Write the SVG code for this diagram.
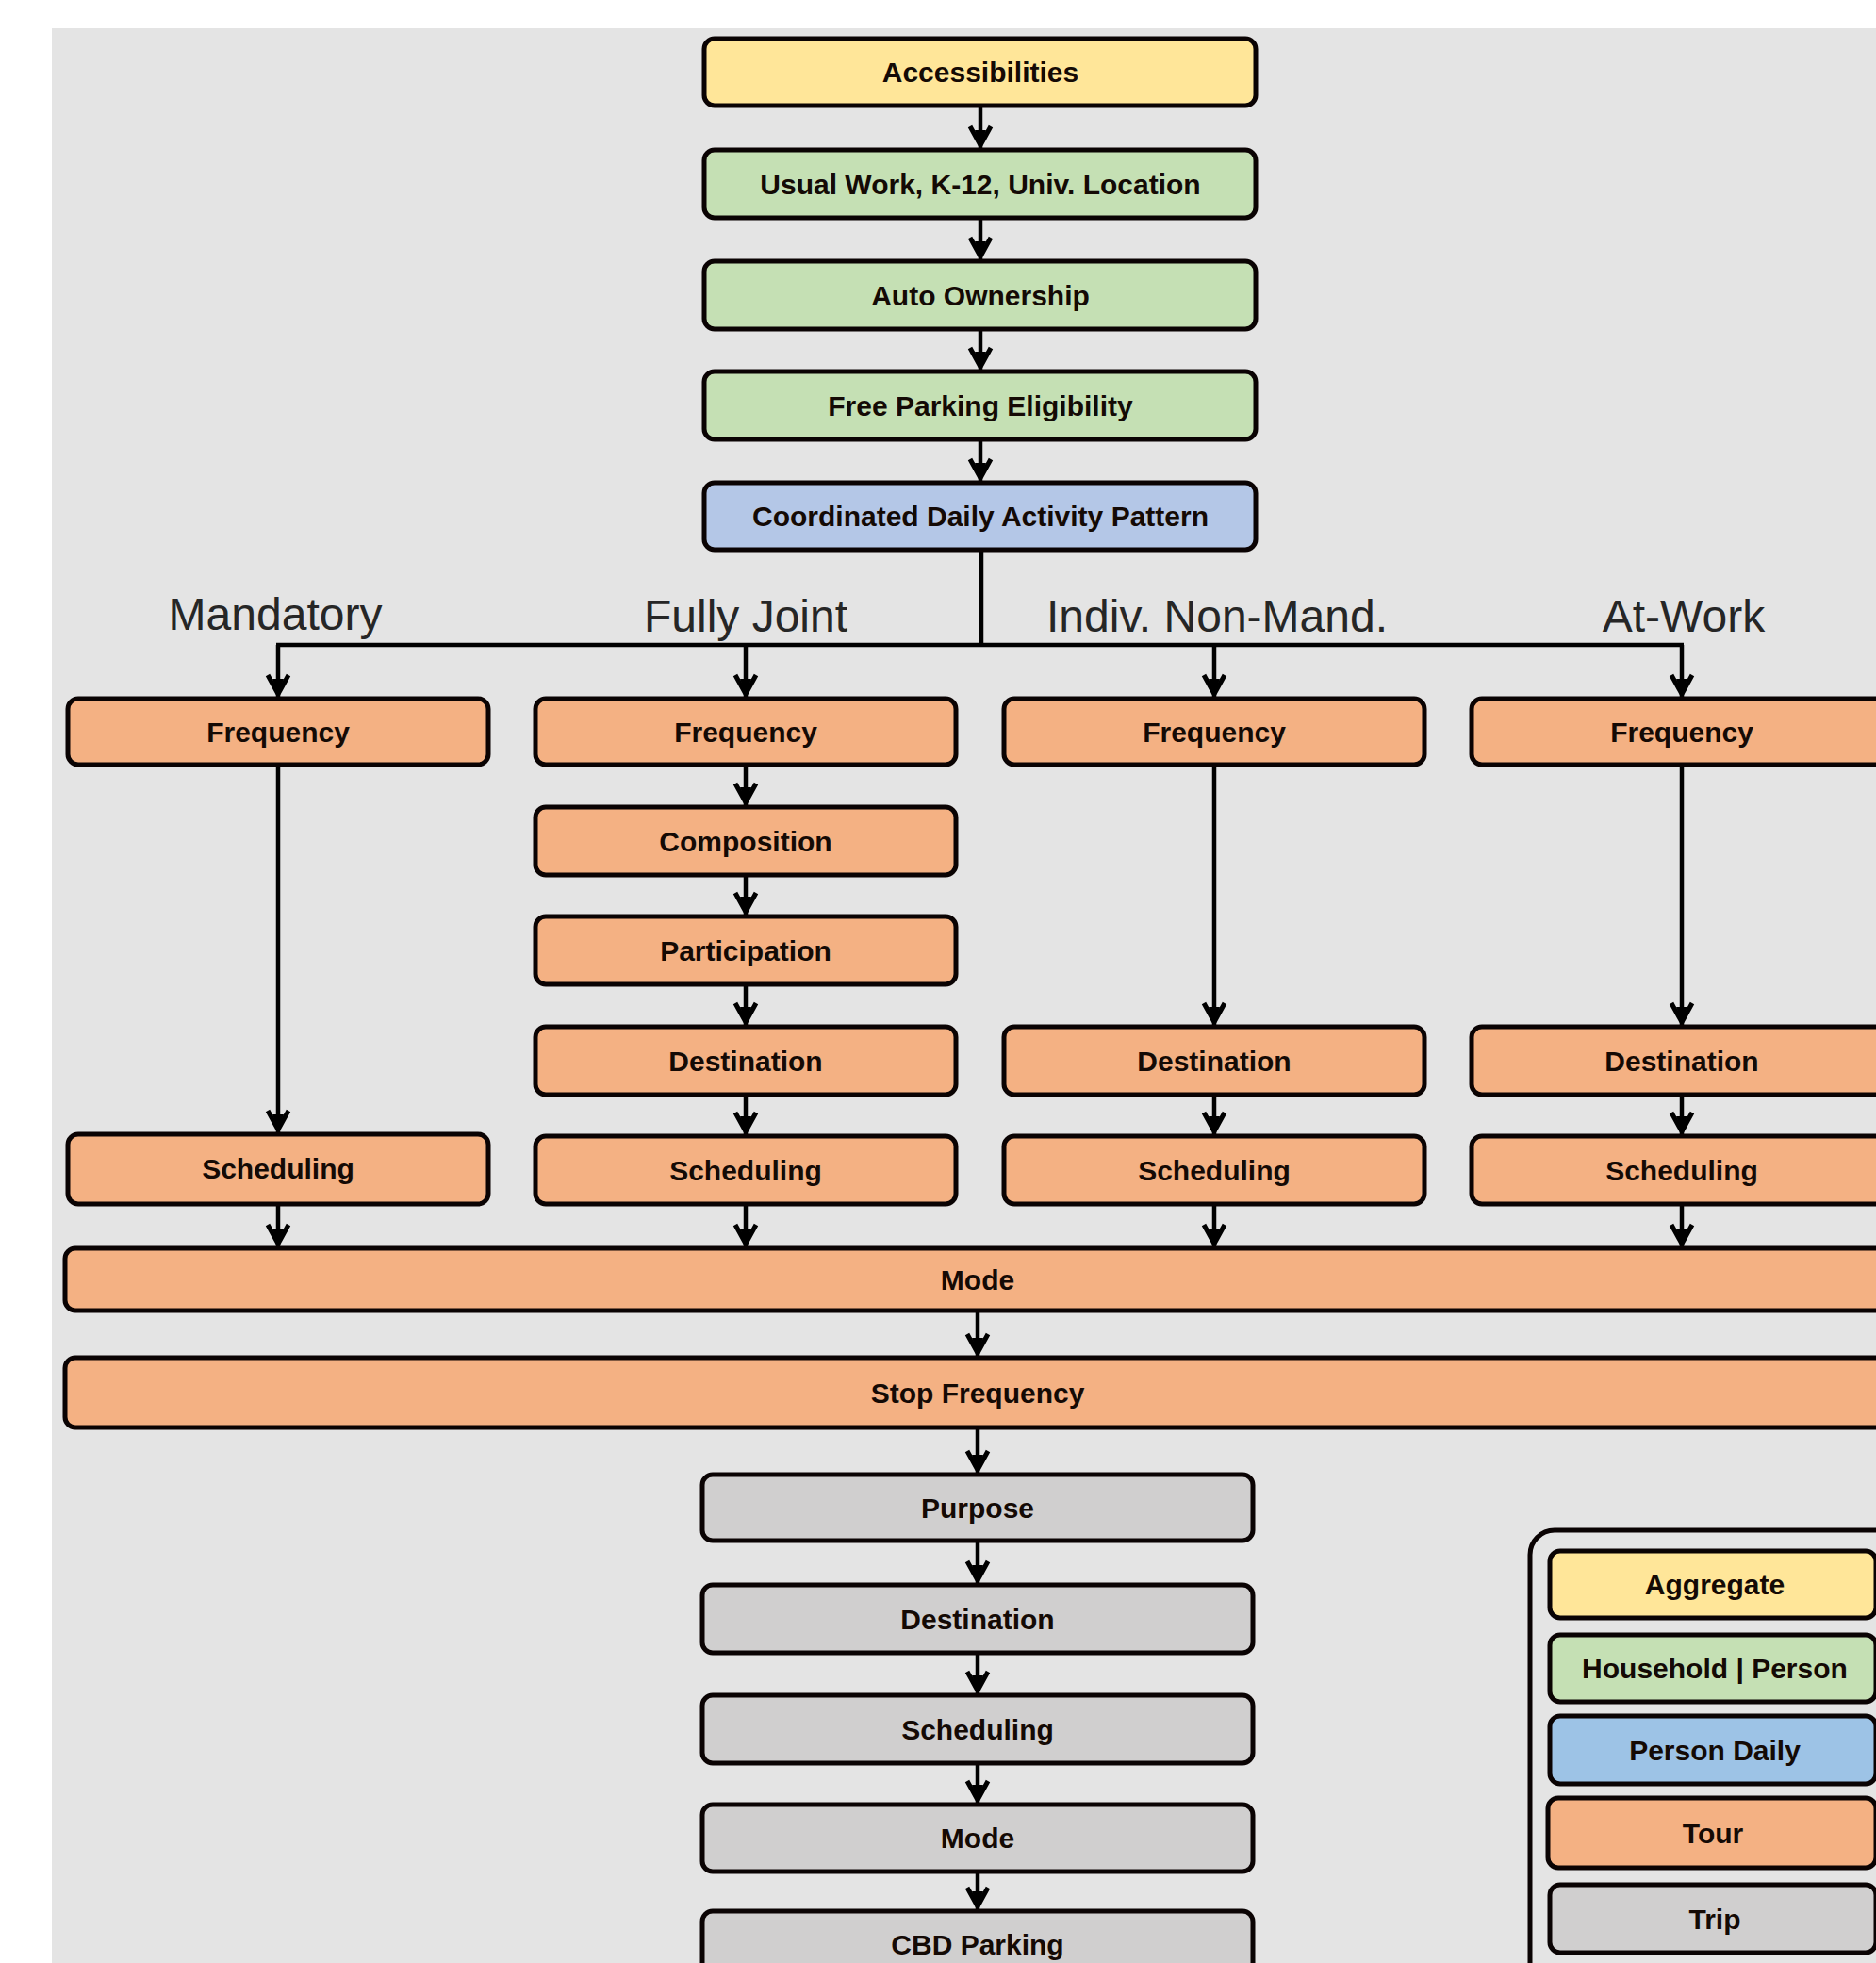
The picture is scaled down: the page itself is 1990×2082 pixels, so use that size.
<svg xmlns="http://www.w3.org/2000/svg" width="1990" height="2082" viewBox="0 0 1990 2082">
<style>
.box{stroke:#0a0303;stroke-width:5;rx:11px;ry:11px}
.agg{fill:#FFE699}
.hh{fill:#C5E0B4}
.pd{fill:#B4C7E7}
.pdl{fill:#9DC3E6}
.tour{fill:#F4B183}
.trip{fill:#D0CFCF}
.t{font-family:"Liberation Sans",Arial,sans-serif;font-weight:bold;font-size:30px;text-anchor:middle;fill:#140a05}
.h{font-family:"Liberation Sans",Arial,sans-serif;font-size:48px;text-anchor:middle;fill:#262626}
.c{fill:none;stroke:#000;stroke-width:4.5}
</style>
<defs>
<marker id="arr" markerUnits="userSpaceOnUse" orient="auto" refX="0" refY="0" markerWidth="30" markerHeight="30" viewBox="-28 -15 30 30" style="overflow:visible">
<path d="M-25,-11 L-5,0 L-25,11" fill="none" stroke="#000" stroke-width="5" stroke-linejoin="miter"/>
<path d="M-21,-6 L-5,0 L-21,6 Z" fill="#000"/>
</marker>
</defs>
<rect x="0" y="0" width="1990" height="2082" fill="#ffffff"/>
<rect x="55" y="30" width="1935" height="2052" fill="#E4E4E4"/>

<g id="connectors">
<path class="c" d="M1040,112 V159" marker-end="url(#arr)"/>
<path class="c" d="M1040,231 V277" marker-end="url(#arr)"/>
<path class="c" d="M1040,349 V394" marker-end="url(#arr)"/>
<path class="c" d="M1040,466 V512" marker-end="url(#arr)"/>
<path class="c" d="M1041,583 V684"/>
<path class="c" d="M293,684 H1786"/>
<path class="c" d="M295,684 V741" marker-end="url(#arr)"/>
<path class="c" d="M791,684 V741" marker-end="url(#arr)"/>
<path class="c" d="M1288,684 V741" marker-end="url(#arr)"/>
<path class="c" d="M1784,684 V741" marker-end="url(#arr)"/>
<path class="c" d="M295,811 V1203" marker-end="url(#arr)"/>
<path class="c" d="M791,811 V856" marker-end="url(#arr)"/>
<path class="c" d="M791,928 V972" marker-end="url(#arr)"/>
<path class="c" d="M791,1044 V1089" marker-end="url(#arr)"/>
<path class="c" d="M791,1161 V1205" marker-end="url(#arr)"/>
<path class="c" d="M1288,811 V1089" marker-end="url(#arr)"/>
<path class="c" d="M1288,1161 V1205" marker-end="url(#arr)"/>
<path class="c" d="M1784,811 V1089" marker-end="url(#arr)"/>
<path class="c" d="M1784,1161 V1205" marker-end="url(#arr)"/>
<path class="c" d="M295,1277 V1324" marker-end="url(#arr)"/>
<path class="c" d="M791,1277 V1324" marker-end="url(#arr)"/>
<path class="c" d="M1288,1277 V1324" marker-end="url(#arr)"/>
<path class="c" d="M1784,1277 V1324" marker-end="url(#arr)"/>
<path class="c" d="M1037,1390 V1440" marker-end="url(#arr)"/>
<path class="c" d="M1037,1514 V1564" marker-end="url(#arr)"/>
<path class="c" d="M1037,1634 V1681" marker-end="url(#arr)"/>
<path class="c" d="M1037,1753 V1798" marker-end="url(#arr)"/>
<path class="c" d="M1037,1870 V1914" marker-end="url(#arr)"/>
<path class="c" d="M1037,1985 V2027" marker-end="url(#arr)"/>
</g>

<g id="headers">
<text class="h" x="292" y="668">Mandatory</text>
<text class="h" x="791" y="670">Fully Joint</text>
<text class="h" x="1291" y="670">Indiv. Non-Mand.</text>
<text class="h" x="1786" y="670">At-Work</text>
</g>

<g id="accessibilities"><rect class="box agg" x="747" y="41" width="585" height="71"/><text class="t" x="1040" y="87">Accessibilities</text></g>
<g id="usual-location"><rect class="box hh" x="747" y="159" width="585" height="72"/><text class="t" x="1040" y="206">Usual Work, K-12, Univ. Location</text></g>
<g id="auto-ownership"><rect class="box hh" x="747" y="277" width="585" height="72"/><text class="t" x="1040" y="324">Auto Ownership</text></g>
<g id="free-parking"><rect class="box hh" x="747" y="394" width="585" height="72"/><text class="t" x="1040" y="441">Free Parking Eligibility</text></g>
<g id="cdap"><rect class="box pd" x="747" y="512" width="585" height="71"/><text class="t" x="1040" y="558">Coordinated Daily Activity Pattern</text></g>

<g id="mand-frequency"><rect class="box tour" x="72" y="741" width="446" height="70"/><text class="t" x="295" y="787">Frequency</text></g>
<g id="mand-scheduling"><rect class="box tour" x="72" y="1203" width="446" height="74"/><text class="t" x="295" y="1250">Scheduling</text></g>

<g id="joint-frequency"><rect class="box tour" x="568" y="741" width="446" height="70"/><text class="t" x="791" y="787">Frequency</text></g>
<g id="joint-composition"><rect class="box tour" x="568" y="856" width="446" height="72"/><text class="t" x="791" y="903">Composition</text></g>
<g id="joint-participation"><rect class="box tour" x="568" y="972" width="446" height="72"/><text class="t" x="791" y="1019">Participation</text></g>
<g id="joint-destination"><rect class="box tour" x="568" y="1089" width="446" height="72"/><text class="t" x="791" y="1136">Destination</text></g>
<g id="joint-scheduling"><rect class="box tour" x="568" y="1205" width="446" height="72"/><text class="t" x="791" y="1252">Scheduling</text></g>

<g id="nonmand-frequency"><rect class="box tour" x="1065" y="741" width="446" height="70"/><text class="t" x="1288" y="787">Frequency</text></g>
<g id="nonmand-destination"><rect class="box tour" x="1065" y="1089" width="446" height="72"/><text class="t" x="1288" y="1136">Destination</text></g>
<g id="nonmand-scheduling"><rect class="box tour" x="1065" y="1205" width="446" height="72"/><text class="t" x="1288" y="1252">Scheduling</text></g>

<g id="atwork-frequency"><rect class="box tour" x="1561" y="741" width="446" height="70"/><text class="t" x="1784" y="787">Frequency</text></g>
<g id="atwork-destination"><rect class="box tour" x="1561" y="1089" width="446" height="72"/><text class="t" x="1784" y="1136">Destination</text></g>
<g id="atwork-scheduling"><rect class="box tour" x="1561" y="1205" width="446" height="72"/><text class="t" x="1784" y="1252">Scheduling</text></g>

<g id="tour-mode"><rect class="box tour" x="69" y="1324" width="1940" height="66"/><text class="t" x="1037" y="1368">Mode</text></g>
<g id="stop-frequency"><rect class="box tour" x="69" y="1440" width="1940" height="74"/><text class="t" x="1037" y="1488">Stop Frequency</text></g>

<g id="trip-purpose"><rect class="box trip" x="745" y="1564" width="584" height="70"/><text class="t" x="1037" y="1610">Purpose</text></g>
<g id="trip-destination"><rect class="box trip" x="745" y="1681" width="584" height="72"/><text class="t" x="1037" y="1728">Destination</text></g>
<g id="trip-scheduling"><rect class="box trip" x="745" y="1798" width="584" height="72"/><text class="t" x="1037" y="1845">Scheduling</text></g>
<g id="trip-mode"><rect class="box trip" x="745" y="1914" width="584" height="71"/><text class="t" x="1037" y="1960">Mode</text></g>
<g id="trip-cbd-parking"><rect class="box trip" x="745" y="2027" width="584" height="72"/><text class="t" x="1037" y="2073">CBD Parking</text></g>

<g id="legend">
<rect x="1623" y="1623" width="420" height="500" rx="26" ry="26" fill="none" stroke="#0a0303" stroke-width="5"/>
<g id="legend-aggregate"><rect class="box agg" x="1644" y="1645" width="346" height="71"/><text class="t" x="1819" y="1691">Aggregate</text></g>
<g id="legend-household"><rect class="box hh" x="1644" y="1734" width="346" height="71"/><text class="t" x="1819" y="1780">Household | Person</text></g>
<g id="legend-person-daily"><rect class="box pdl" x="1644" y="1820" width="346" height="72"/><text class="t" x="1819" y="1867">Person Daily</text></g>
<g id="legend-tour"><rect class="box tour" x="1642" y="1907" width="348" height="74"/><text class="t" x="1817" y="1955">Tour</text></g>
<g id="legend-trip"><rect class="box trip" x="1644" y="1999" width="346" height="72"/><text class="t" x="1819" y="2046">Trip</text></g>
</g>
</svg>
